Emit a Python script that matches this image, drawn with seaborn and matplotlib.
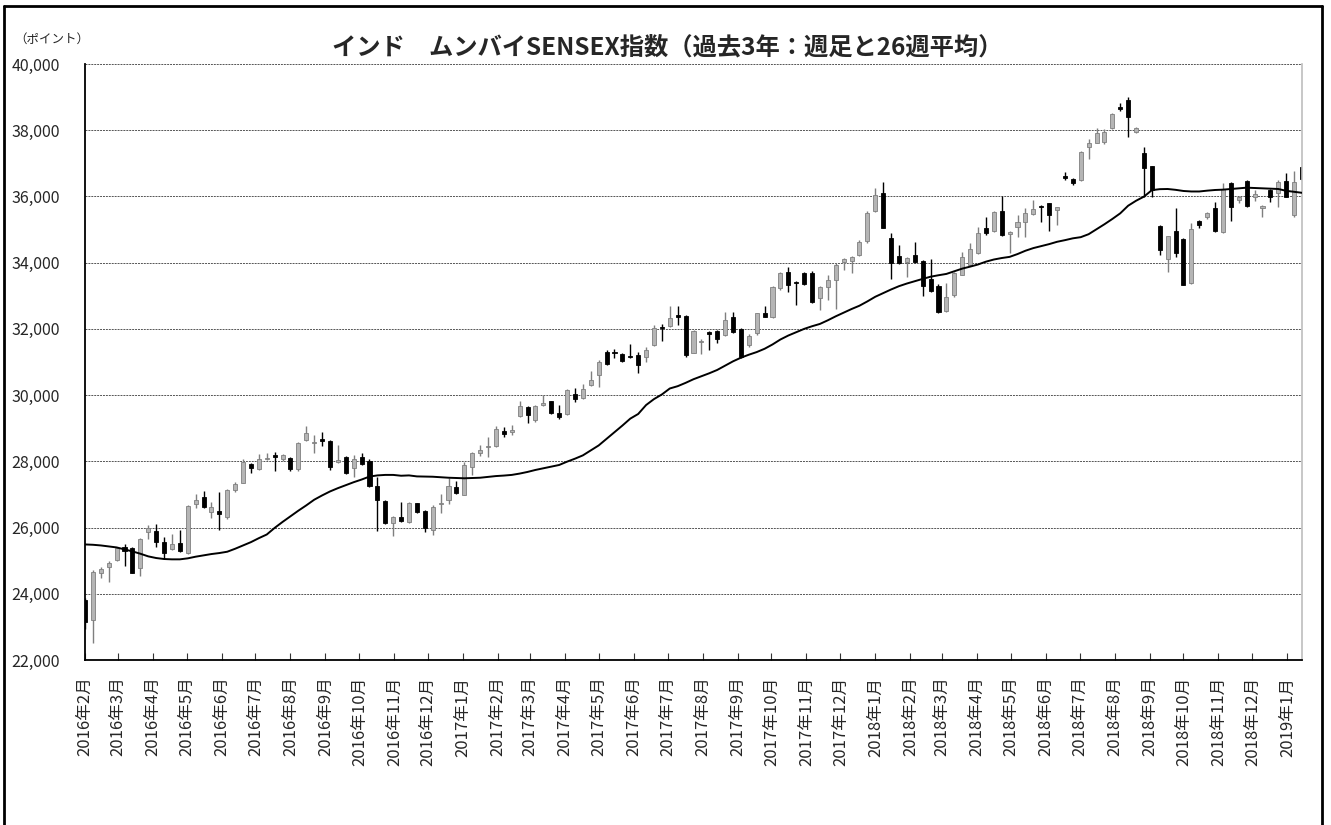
import numpy as np
import pandas as pd
import matplotlib
matplotlib.use('Agg')
import matplotlib.pyplot as plt
import matplotlib.dates as mdates
from matplotlib.lines import Line2D
import seaborn as sns

# weekly bars (Friday), first 2016-02-26, 155 weeks
weeks = pd.date_range('2016-02-26', periods=155, freq='7D')

open_ = [23810, 23210, 24640, 24800, 25020, 25400, 25370, 24790, 25880, 25910,
         25570, 25340, 25520, 25220, 26710, 26910, 26480, 26510, 26310, 27135,
         27360, 27920, 27760, 28060, 28180, 28070, 28110, 27760, 28640, 28540,
         28660, 28620, 27990, 28140, 27790, 28140, 28020, 27270, 26810, 26150,
         26330, 26180, 26730, 26510, 25920, 26710, 26830, 27230, 26980, 27840,
         28260, 28420, 28460, 28930, 28900, 29370, 29650, 29250, 29700, 29820,
         29470, 29430, 30030, 29900, 30300, 30600, 31310, 31290, 31240, 31180,
         31210, 31160, 31510, 32070, 32090, 32420, 32390, 31280, 31600, 31920,
         31940, 31820, 32370, 31990, 31510, 31870, 32490, 32370, 33230, 33730,
         33430, 33700, 33680, 32920, 33280, 33480, 34030, 34060, 34230, 34640,
         35560, 36110, 34740, 34210, 34030, 34230, 34060, 33500, 33300, 32550,
         33020, 33630, 33930, 34280, 35040, 34970, 35570, 34880, 35090, 35240,
         35470, 35710, 35790, 35590, 36620, 36520, 36500, 37500, 37620, 37650,
         38060, 38710, 38900, 37960, 37300, 36920, 35110, 34100, 34970, 34700,
         33400, 35270, 35390, 35640, 34940, 36420, 35890, 36480, 35990, 35640,
         36190, 36090, 36480, 35440, 36900]
high = [23860, 24720, 24820, 25000, 25400, 25490, 25420, 25670, 26080, 26100,
        25720, 25820, 25930, 26680, 27010, 27110, 26760, 27080, 27150, 27390,
        28060, 27960, 28220, 28260, 28290, 28220, 28140, 28590, 29080, 28800,
        28880, 28640, 28480, 28160, 28190, 28260, 28060, 27540, 26820, 26350,
        26780, 26780, 26750, 26530, 26680, 27010, 27490, 27410, 27990, 28290,
        28490, 28720, 29070, 29030, 29100, 29830, 29670, 29700, 30000, 29830,
        29700, 30175, 30200, 30350, 30740, 31060, 31360, 31380, 31260, 31530,
        31310, 31460, 32120, 32140, 32690, 32690, 32420, 31970, 31680, 31950,
        31970, 32520, 32520, 32020, 31850, 32490, 32690, 33300, 33730, 33860,
        33450, 33730, 33760, 33300, 33630, 33980, 34150, 34200, 34670, 35560,
        36270, 36450, 34890, 34530, 34160, 34630, 34080, 34100, 33360, 33380,
        33730, 34330, 34580, 35070, 35370, 35570, 36010, 34970, 35440, 35640,
        35890, 35740, 35810, 35690, 36750, 36550, 37380, 37720, 38060, 38030,
        38510, 38830, 38990, 38110, 37480, 36920, 35140, 34800, 35640, 34730,
        35190, 35290, 35540, 35840, 36400, 36450, 36010, 36500, 36190, 35740,
        36210, 36500, 36700, 36780, 36920]
low = [22950, 22520, 24470, 24365, 25000, 24840, 24620, 24540, 25640, 25420,
       25040, 25320, 25270, 25200, 26580, 26580, 26280, 25930, 26260, 27080,
       27340, 27660, 27740, 28040, 27720, 28010, 27720, 27720, 28610, 28260,
       28460, 27740, 27960, 27610, 27540, 27890, 27230, 25900, 26110, 25740,
       26180, 26130, 26450, 25880, 25770, 26450, 26710, 27010, 26980, 27590,
       28160, 28120, 28440, 28740, 28800, 29350, 29150, 29200, 29670, 29430,
       29270, 29400, 29800, 29880, 30270, 30250, 30900, 31110, 31010, 31110,
       30680, 31010, 31480, 31640, 32070, 32120, 31140, 31260, 31240, 31360,
       31560, 31790, 31890, 31110, 31440, 31820, 32350, 32320, 33170, 33120,
       32720, 33320, 32790, 32570, 32870, 32590, 33780, 33700, 34210, 34580,
       35520, 35040, 33500, 33960, 33580, 34000, 32990, 33120, 32490, 32520,
       32970, 33630, 33900, 34260, 34840, 34940, 34800, 34300, 34770, 34790,
       35440, 35240, 34970, 35140, 36500, 36350, 36480, 37120, 37600, 37570,
       38030, 38590, 37800, 37910, 35990, 35990, 34230, 33730, 34160, 33320,
       33370, 35040, 35310, 34940, 34910, 35270, 35810, 35690, 35870, 35390,
       35840, 35690, 35970, 35390, 36500]
close = [23155, 24665, 24740, 24940, 25370, 25300, 24640, 25640, 25980, 25570,
         25220, 25490, 25290, 26650, 26830, 26630, 26630, 26410, 27135, 27320,
         27980, 27800, 28080, 28100, 28140, 28180, 27760, 28560, 28850, 28590,
         28610, 27820, 28040, 27660, 28060, 27920, 27250, 26820, 26130, 26320,
         26210, 26750, 26480, 25980, 26630, 26750, 27250, 27030, 27880, 28240,
         28340, 28460, 28990, 28840, 28950, 29670, 29400, 29670, 29750, 29450,
         29330, 30150, 29870, 30170, 30460, 31010, 30940, 31260, 31040, 31140,
         30910, 31360, 32020, 32020, 32320, 32350, 31210, 31950, 31640, 31850,
         31700, 32270, 31920, 31160, 31790, 32470, 32370, 33280, 33700, 33330,
         33380, 33360, 32820, 33280, 33480, 33940, 34100, 34160, 34630, 35510,
         36050, 35060, 34000, 34000, 34140, 34030, 33300, 33150, 32520, 32970,
         33680, 34180, 34400, 34890, 34890, 35540, 34840, 34940, 35240, 35490,
         35610, 35670, 35440, 35670, 36550, 36420, 37350, 37600, 37930, 37960,
         38490, 38630, 38390, 38060, 36850, 36190, 34380, 34800, 34280, 33330,
         35010, 35140, 35490, 34970, 36210, 35690, 35990, 35710, 36070, 35710,
         35990, 36450, 35990, 36450, 36520]
# 26-week moving average
ma26 = [25490, 25480, 25460, 25430, 25400, 25340, 25280, 25210, 25130, 25080,
        25050, 25040, 25040, 25070, 25120, 25160, 25200, 25230, 25270, 25360,
        25460, 25560, 25680, 25790, 25990, 26170, 26340, 26510, 26670, 26840,
        26970, 27090, 27190, 27280, 27370, 27450, 27540, 27575, 27590, 27590,
        27565, 27575, 27545, 27540, 27535, 27520, 27505, 27495, 27488, 27495,
        27505, 27530, 27555, 27570, 27590, 27630, 27680, 27740, 27790, 27840,
        27890, 27990, 28080, 28180, 28330, 28480, 28680, 28880, 29080, 29290,
        29430, 29700, 29880, 30020, 30200, 30270, 30370, 30480, 30570, 30660,
        30760, 30890, 31020, 31130, 31220, 31300, 31400, 31530, 31680, 31800,
        31900, 32000, 32080, 32150, 32260, 32380, 32490, 32600, 32700, 32830,
        32970, 33080, 33190, 33290, 33370, 33440, 33510, 33576, 33620, 33660,
        33740, 33820, 33880, 33945, 34030, 34095, 34140, 34175, 34260, 34360,
        34440, 34500, 34560, 34630, 34680, 34735, 34770, 34860, 35010, 35160,
        35320, 35490, 35720, 35870, 35995, 36190, 36220, 36225, 36200, 36165,
        36150, 36150, 36175, 36195, 36205, 36225, 36245, 36265, 36255, 36245,
        36235, 36225, 36170, 36140, 36110]

tick_dates = pd.date_range('2016-02-26', '2019-01-26', freq=pd.DateOffset(months=1))
tick_labels = [f"{d.year}年{d.month}月" for d in tick_dates]
y_ticks = list(range(22000, 40001, 2000))

sns.set_theme(style="white")
plt.rcParams['font.family'] = ['Noto Sans CJK JP', 'DejaVu Sans']

fig = plt.figure(figsize=(13.31, 8.25), dpi=100)
ax = fig.add_axes([85 / 1331, 1 - 660 / 825, (1302 - 85) / 1331, (660 - 64) / 825])

x = mdates.date2num(weeks)
o = np.array(open_, dtype=float)
c = np.array(close, dtype=float)
h = np.array(high, dtype=float)
l = np.array(low, dtype=float)
up = c >= o
body_bottom = np.minimum(o, c)
body_h = np.maximum(np.abs(c - o), 30)

# wicks
ax.vlines(x[up], l[up], h[up], color='#7f7f7f', lw=1.0, zorder=2)
ax.vlines(x[~up], l[~up], h[~up], color='black', lw=1.0, zorder=2)
# bodies
ax.bar(x[up], body_h[up], bottom=body_bottom[up], width=3.6,
       color='#b5b5b5', edgecolor='#7f7f7f', lw=0.6, zorder=2)
ax.bar(x[~up], body_h[~up], bottom=body_bottom[~up], width=3.6,
       color='black', edgecolor='black', lw=0.6, zorder=2)

# 26-week average
sns.lineplot(x=x, y=ma26, color='black', lw=1.4, ax=ax, zorder=3)

ax.set_xlim(x[0], x[-1])
ax.set_ylim(22000, 40000)
ax.set_yticks(y_ticks)
ax.set_yticklabels([f"{v:,}" for v in y_ticks])
ax.set_xticks(mdates.date2num(tick_dates))
ax.set_xticklabels(tick_labels, rotation=90)
ax.set_xlabel('')
ax.set_ylabel('')

ax.yaxis.grid(True, linestyle=(0, (2, 1)), color='#555555', lw=0.7)
ax.xaxis.grid(False)
ax.set_axisbelow(True)
ax.tick_params(axis='x', direction='in', length=5, width=0.8, color='#333333',
               pad=12, labelsize=12, bottom=True)
ax.tick_params(axis='y', length=0, pad=18, labelsize=11.5)

ax.spines['top'].set_visible(False)
ax.spines['right'].set_color('#bdbdbd')
ax.spines['right'].set_linewidth(1.2)
for side in ['left', 'bottom']:
    ax.spines[side].set_color('black')
    ax.spines[side].set_linewidth(1.3)

fig.text(0.501, 1 - 47 / 825, 'インド　ムンバイSENSEX指数（過去3年：週足と26週平均）',
         ha='center', va='center', fontsize=17.5, fontweight='bold')
fig.text(52 / 1331, 1 - 39 / 825, '（ポイント）', ha='center', va='center', fontsize=9)

# outer frame (open at the bottom)
fx0, fx1, fy1 = 4 / 1331, 1322 / 1331, 1 - 6 / 825
fig.add_artist(Line2D([fx0, fx0], [0, fy1], transform=fig.transFigure, color='black', lw=2))
fig.add_artist(Line2D([fx1, fx1], [0, fy1], transform=fig.transFigure, color='black', lw=2))
fig.add_artist(Line2D([fx0, fx1], [fy1, fy1], transform=fig.transFigure, color='black', lw=2))

fig.savefig('out.png', dpi=100)
plt.close(fig)
